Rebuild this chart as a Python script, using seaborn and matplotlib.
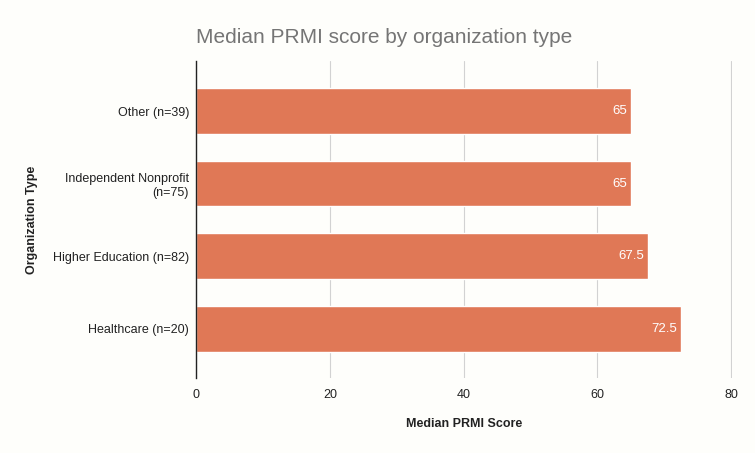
import pandas as pd
import matplotlib.pyplot as plt
import seaborn as sns

# Chart data
org_types = ["Other (n=39)", "Independent Nonprofit\n(n=75)",
             "Higher Education (n=82)", "Healthcare (n=20)"]
median_scores = [65, 65, 67.5, 72.5]
score_labels = ["65", "65", "67.5", "72.5"]
x_ticks = [0, 20, 40, 60, 80]

df = pd.DataFrame({"Organization Type": org_types, "Median PRMI Score": median_scores})

bg = "#fefefb"
sns.set_style("whitegrid")
plt.rcParams['font.family'] = ['Liberation Sans', 'DejaVu Sans']

fig = plt.figure(figsize=(7.55, 4.53), dpi=100, facecolor=bg)
ax = fig.add_axes([0.2596, 0.1656, 0.7099, 0.6997])
ax.set_facecolor(bg)

sns.barplot(data=df, x="Median PRMI Score", y="Organization Type",
            color="#e07856", saturation=1, width=0.63, ax=ax)

# Value labels inside the bar ends
for i, (v, lab) in enumerate(zip(median_scores, score_labels)):
    ax.text(v - 0.6, i, lab, color="white", ha="right", va="center", fontsize=9.5)

ax.set_xlim(0, 80.1)
ax.set_ylim(3.68, -0.69)
ax.set_xticks(x_ticks)
ax.xaxis.grid(True, color="#d2d2d2", linewidth=0.8)
ax.yaxis.grid(False)
for s in ["top", "right", "bottom"]:
    ax.spines[s].set_visible(False)
ax.spines["left"].set_color("#222222")
ax.spines["left"].set_linewidth(1)
ax.tick_params(axis="both", length=0, labelsize=9, colors="#222222")
ax.tick_params(axis="x", pad=8)
ax.tick_params(axis="y", pad=5)

ax.set_xlabel("Median PRMI Score", fontsize=9, fontweight="bold", color="#222222")
ax.set_ylabel("Organization Type", fontsize=9, fontweight="bold", color="#222222")
ax.xaxis.set_label_coords(0.5, -0.126)
ax.yaxis.set_label_coords(-0.295, 0.5)
ax.set_title("Median PRMI score by organization type", loc="left", fontsize=15,
             color="#757575", pad=13)

fig.savefig("out.png", dpi=100, facecolor=bg)
